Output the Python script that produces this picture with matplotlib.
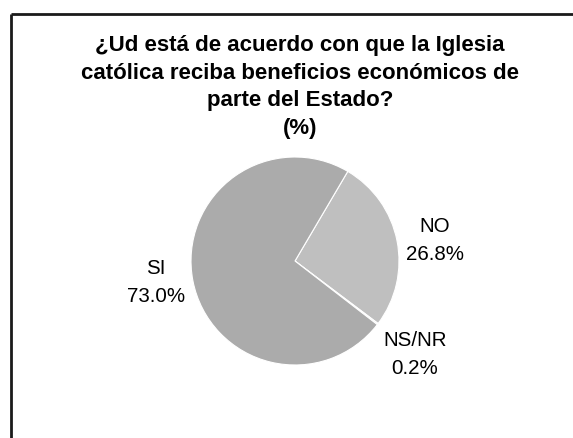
import matplotlib
matplotlib.use("Agg")
import matplotlib.pyplot as plt
import numpy as np

categories = ["NO", "NS/NR", "SI"]
values = [26.8, 0.2, 73.0]
colors = ["#bfbfbf", "#d9d9d9", "#ababab"]
title_lines = ["¿Ud está de acuerdo con que la Iglesia",
               "católica reciba beneficios económicos de",
               "parte del Estado?",
               "(%)"]

W, H = 573, 438
fig = plt.figure(figsize=(W / 100, H / 100), dpi=100)
ax = fig.add_axes([0, 0, 1, 1])
ax.set_xlim(0, W)
ax.set_ylim(0, H)
ax.axis("off")

# border (top and left visible)
ax.plot([11, W + 5], [H - 14, H - 14], color="#1a1a1a", lw=2, solid_capstyle="butt")
ax.plot([11, 11], [H - 14, -5], color="#1a1a1a", lw=2, solid_capstyle="butt")

cx, cy, r = 295, H - 261, 104
labels = [f"{c}\n{v:.1f}%" for c, v in zip(categories, values)]
wedges, texts = ax.pie(values, colors=colors, startangle=59.5, counterclock=False,
                       center=(cx, cy), radius=r, labels=labels, labeldistance=1.39,
                       wedgeprops=dict(edgecolor="white", linewidth=0.8),
                       textprops=dict(fontsize=14.8, family="Liberation Sans",
                                      linespacing=1.6))
# label placement (pixel layout, image coordinates)
label_pos = [(435, 240), (415, 354), (156, 283)]
for t, (lx, ly) in zip(texts, label_pos):
    t.set_horizontalalignment("center")
    t.set_verticalalignment("center")
    t.set_position((lx, H - ly))
ax.set_xlim(0, W)
ax.set_ylim(0, H)
ax.set_aspect("auto")

ax.text(300, H - 87, "\n".join(title_lines), ha="center", va="center",
        fontsize=16, fontweight="bold", family="Liberation Sans", linespacing=1.41)

fig.savefig("out.png", dpi=100)
